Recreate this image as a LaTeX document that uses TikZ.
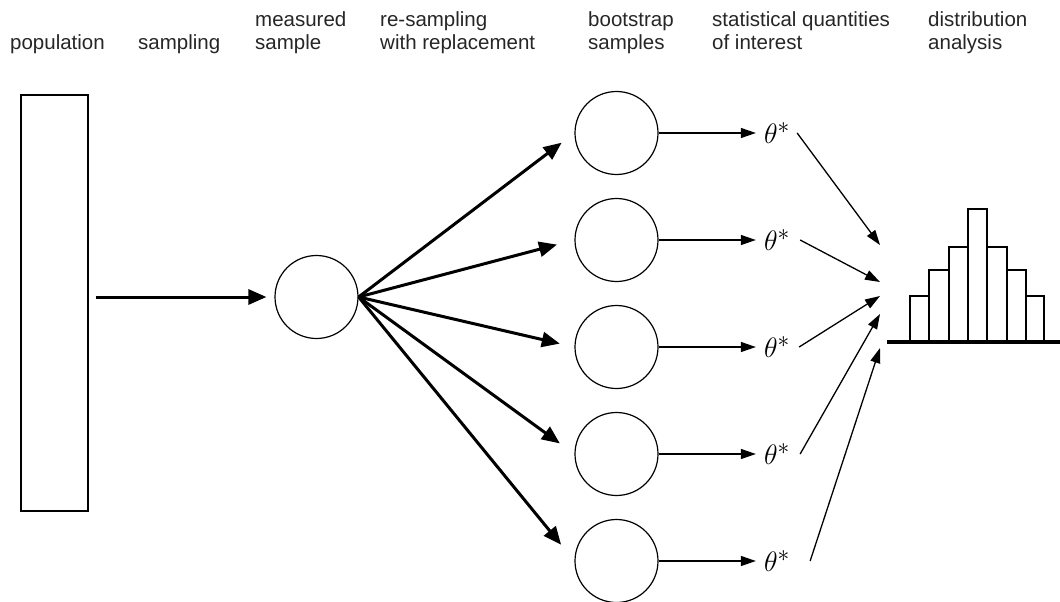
\documentclass[tikz,border=0pt]{standalone}
\usepackage{fontspec}
\setmainfont{Liberation Sans}
\usetikzlibrary{arrows.meta}

\newcommand{\tstar}{\scalebox{1.13}{$\theta^*$}}

\begin{document}
\begin{tikzpicture}[x=1pt,y=-1pt,
  head/.style={anchor=base west,align=left,inner sep=0pt,text=black!85,font=\fontsize{20.5}{24}\selectfont},
  smp/.style={draw,circle,line width=1.2pt,minimum size=83pt,inner sep=0pt},
  stat/.style={inner sep=0pt,font=\fontsize{24.88}{30}\selectfont},
  thick arrow/.style={line width=3pt,-{Triangle[length=18pt,width=15pt]}},
  thin arrow/.style={line width=1.3pt,-{Triangle[length=15pt,width=10pt]}},
  bar/.style={draw,line width=1.5pt}]

\useasboundingbox (0,0) rectangle (1060,602);

\node[head] (h-pop) at (10,50) {population};
\node[head] (h-smp) at (138,50) {sampling};
\node[head] (h-meas) at (255,50) {measured\\sample};
\node[head] (h-res) at (380,50) {re-sampling\\with replacement};
\node[head] (h-boot) at (588,50) {bootstrap\\samples};
\node[head] (h-stat) at (712,50) {statistical quantities\\of interest};
\node[head] (h-dist) at (928,50) {distribution\\analysis};

\node[draw,line width=1.3pt,minimum width=67pt,minimum height=416pt,inner sep=0pt] (pop) at (54.5,303) {};
\node[smp] (s) at (316.5,297) {};

\node[smp] (b1) at (616.5,133) {};
\node[smp] (b2) at (616.5,240) {};
\node[smp] (b3) at (616.5,347) {};
\node[smp] (b4) at (616.5,454) {};
\node[smp] (b5) at (616.5,561) {};

\node[stat] (t1) at (777,133) {\tstar};
\node[stat] (t2) at (777,240) {\tstar};
\node[stat] (t3) at (777,347) {\tstar};
\node[stat] (t4) at (777,454) {\tstar};
\node[stat] (t5) at (777,561) {\tstar};

\coordinate (h1) at (880,245);
\coordinate (h2) at (880,282);
\coordinate (h3) at (880,296);
\coordinate (h4) at (880,314);
\coordinate (h5) at (880,348);

\draw[thick arrow,shorten <=7pt,shorten >=8pt] (pop.east |- s.west) -- (s.west);

\draw[thick arrow,shorten >=16pt] (s.east) -- (b1.west);
\draw[thick arrow,shorten >=18pt] (s.east) -- (b2.west);
\draw[thick arrow,shorten >=15pt] (s.east) -- (b3.west);
\draw[thick arrow,shorten >=18pt] (s.east) -- (b4.west);
\draw[thick arrow,shorten >=21pt] (s.east) -- (b5.west);

\draw[thin arrow,shorten >=8pt] (b1.east) -- (t1.west);
\draw[thin arrow,shorten >=8pt] (b2.east) -- (t2.west);
\draw[thin arrow,shorten >=8pt] (b3.east) -- (t3.west);
\draw[thin arrow,shorten >=8pt] (b4.east) -- (t4.west);
\draw[thin arrow,shorten >=8pt] (b5.east) -- (t5.west);

\draw[thin arrow] ([xshift=7pt]t1.east) -- (h1);
\draw[thin arrow] ([xshift=10pt]t2.east) -- (h2);
\draw[thin arrow] ([xshift=9pt]t3.east) -- (h3);
\draw[thin arrow] ([xshift=10pt]t4.east) -- (h4);
\draw[thin arrow] ([xshift=20pt]t5.east) -- (h5);

% histogram
\draw[bar] (910,341) rectangle (929,296);
\draw[bar] (929,341) rectangle (949,270);
\draw[bar] (949,341) rectangle (968,247);
\draw[bar] (968,341) rectangle (987,209);
\draw[bar] (987,341) rectangle (1007,247);
\draw[bar] (1007,341) rectangle (1026,270);
\draw[bar] (1026,341) rectangle (1044,296);
\draw[line width=4.5pt] (887,342) -- (1060,342);

\end{tikzpicture}
\end{document}
